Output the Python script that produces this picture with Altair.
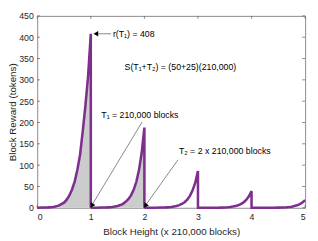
import altair as alt
import pandas as pd

# Curve (x in units of 210,000 blocks, y in tokens)
seg1_x = [0.0, 0.1, 0.2, 0.3, 0.4, 0.5, 0.55, 0.6, 0.65, 0.7, 0.75, 0.8, 0.85, 0.9, 0.95, 1.0, 1.0]
seg1_y = [0.2, 0.5, 1, 2, 5, 12, 19, 29, 43, 62, 90, 125, 180, 240, 310, 408, 0]
seg2_x = [1.0, 1.1, 1.2, 1.3, 1.4, 1.5, 1.55, 1.6, 1.65, 1.7, 1.75, 1.8, 1.85, 1.9, 1.95, 2.0, 2.0]
seg2_y = [0.1, 0.2, 0.5, 1, 2, 4.4, 6.4, 9.4, 14, 20, 29, 42, 61, 89, 129, 188, 0]
seg3_x = [2.0, 2.1, 2.2, 2.3, 2.4, 2.5, 2.55, 2.6, 2.65, 2.7, 2.75, 2.8, 2.85, 2.9, 2.95, 3.0, 3.0]
seg3_y = [0.05, 0.1, 0.2, 0.5, 1, 2, 3, 4.3, 6.2, 9, 13, 19, 28, 41, 59, 86, 0]
seg4_x = [3.0, 3.1, 3.2, 3.3, 3.4, 3.5, 3.55, 3.6, 3.65, 3.7, 3.75, 3.8, 3.85, 3.9, 3.95, 4.0, 4.0]
seg4_y = [0, 0.05, 0.1, 0.2, 0.4, 0.9, 1.3, 1.9, 2.8, 4.1, 6, 8.7, 12.7, 18.5, 27, 39, 0]
seg5_x = [4.0, 4.1, 4.2, 4.3, 4.4, 4.5, 4.55, 4.6, 4.65, 4.7, 4.75, 4.8, 4.85, 4.9, 4.95, 5.0]
seg5_y = [0, 0, 0.05, 0.1, 0.2, 0.4, 0.6, 0.9, 1.3, 1.9, 2.7, 4, 5.8, 8.5, 12.3, 18]

x_ticks = [0, 1, 2, 3, 4, 5]
y_ticks = [0, 50, 100, 150, 200, 250, 300, 350, 400, 450]

labels = ["r(T\u2081) = 408", "S(T\u2081+T\u2082) = (50+25)(210,000)",
          "T\u2081 = 210,000 blocks", "T\u2082 = 2 x 210,000 blocks"]
label_x = [1.413, 1.63, 1.196, 2.645]
label_y = [408, 329, 218, 132]

arrow_x = [1.377, 1.957, 2.627]
arrow_y = [408, 201, 112.5]
arrow_x2 = [1.07, 1.01, 2.01]
arrow_y2 = [408, 4, 4]
head_x = [1.095, 1.02, 2.019]
head_y = [408, 5, 4.7]
head_angle = [270, 211, 215]

curve_x = seg1_x + seg2_x + seg3_x + seg4_x + seg5_x
curve_y = seg1_y + seg2_y + seg3_y + seg4_y + seg5_y
df = pd.DataFrame({"x": curve_x, "y": curve_y, "i": list(range(len(curve_x)))})
n12 = len(seg1_x) + len(seg2_x)
shade_df = pd.DataFrame({"x": curve_x[:n12], "y": curve_y[:n12], "i": list(range(n12))})

W, H = 275, 197
xs = alt.Scale(domain=[0, 5], nice=False)
ys = alt.Scale(domain=[0, 450], nice=False)
XT = "Block Height (x 210,000 blocks)"
YT = "Block Reward (tokens)"
xaxis = alt.Axis(values=x_ticks, format="d", title=XT, labelPadding=5, titlePadding=5)
yaxis = alt.Axis(values=y_ticks, format="d", title=YT, labelPadding=4, titlePadding=1)


def X(f="x"):
    return alt.X(f"{f}:Q", scale=xs, axis=xaxis, title=XT)


def Y(f="y"):
    return alt.Y(f"{f}:Q", scale=ys, axis=yaxis, title=YT)


area = alt.Chart(shade_df).mark_area(color="#CCCCCC", opacity=1, interpolate="linear").encode(
    x=X(), y=alt.Y("y:Q", scale=ys, axis=yaxis, title=YT, stack=None),
)

line = alt.Chart(df).mark_line(color="#7E2F8E", strokeWidth=2.6).encode(
    x=X(), y=Y(), order=alt.Order("i:Q"),
)

tick_x_df = pd.DataFrame({"x": x_ticks})
tick_y_df = pd.DataFrame({"y": y_ticks})
tc = "#555555"
bt = alt.Chart(tick_x_df).mark_rule(color=tc, strokeWidth=0.7).encode(
    x=X(), y=alt.value(H), y2=alt.value(H - 3))
tt = alt.Chart(tick_x_df).mark_rule(color=tc, strokeWidth=0.7).encode(
    x=X(), y=alt.value(0), y2=alt.value(3))
lt = alt.Chart(tick_y_df).mark_rule(color=tc, strokeWidth=0.7).encode(
    y=Y(), x=alt.value(0), x2=alt.value(3))
rt = alt.Chart(tick_y_df).mark_rule(color=tc, strokeWidth=0.7).encode(
    y=Y(), x=alt.value(W), x2=alt.value(W - 3))

arr_df = pd.DataFrame({"x": arrow_x, "y": arrow_y, "x2": arrow_x2, "y2": arrow_y2})
arrows = alt.Chart(arr_df).mark_rule(color="#333333", strokeWidth=0.6).encode(
    x=X(), y=Y(), x2="x2:Q", y2="y2:Q")

head_df = pd.DataFrame({"x": head_x, "y": head_y, "a": head_angle})
heads = alt.Chart(head_df).mark_point(shape="triangle-up", filled=True, color="black",
                                      size=30, opacity=1).encode(
    x=X(), y=Y(), angle=alt.Angle("a:Q", scale=None))

lab_df = pd.DataFrame({"x": label_x, "y": label_y, "t": labels})
texts = alt.Chart(lab_df).mark_text(align="left", baseline="middle", fontSize=9,
                                    color="black", font="Liberation Sans").encode(
    x=X(), y=Y(), text="t:N")

chart = alt.layer(area, line, bt, tt, lt, rt, arrows, heads, texts).properties(
    width=W, height=H,
    autosize=alt.AutoSizeParams(type="none"),
    padding={"left": 30, "top": 5, "right": 5, "bottom": 31},
).configure(font="Liberation Sans").configure_view(
    stroke="#8a8a8a", strokeWidth=1
).configure_axis(
    grid=False, domain=False, ticks=False,
    labelFontSize=9, labelColor="#262626",
    titleFontSize=10, titleFontWeight="normal", titleColor="#262626",
)

chart.save("out.html", embed_options={"renderer": "svg", "actions": False})
